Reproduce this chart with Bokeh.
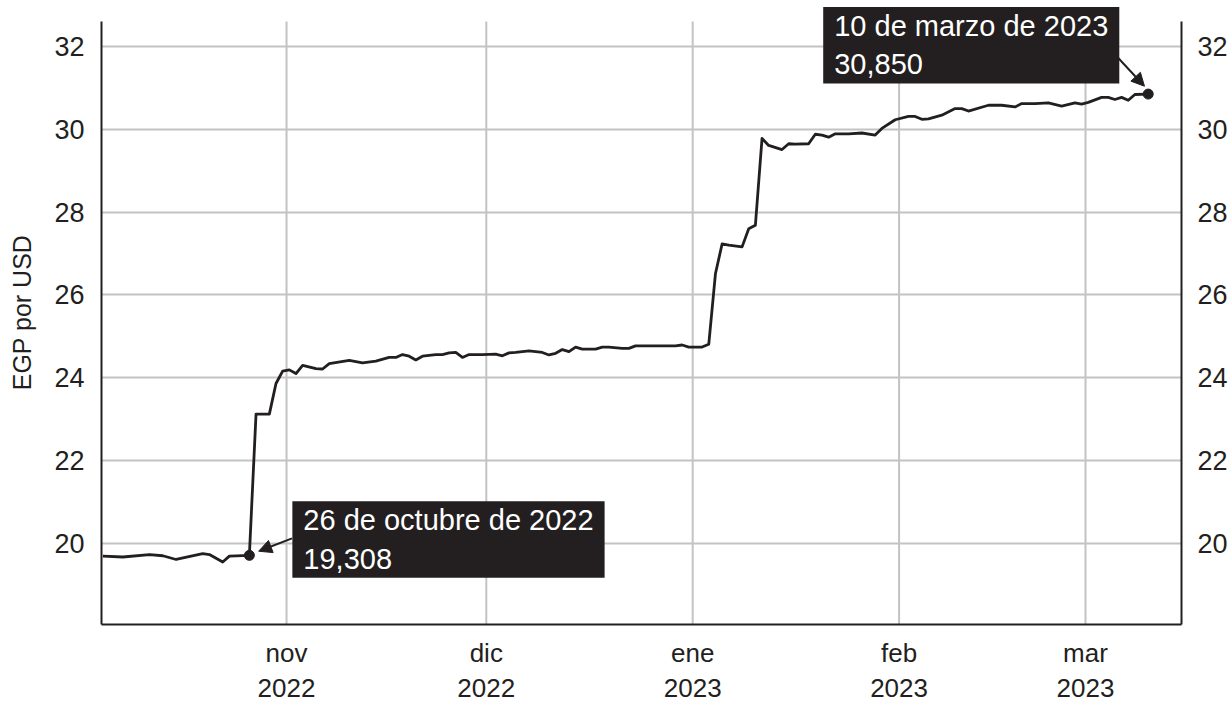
import pandas as pd
from bokeh.plotting import figure
from bokeh.models import (Range1d, FixedTicker, LinearAxis, DatetimeAxis, Label,
                          Arrow, NormalHead, ColumnDataSource)
from bokeh.embed import file_html
from bokeh.resources import INLINE

# ---------------- data ----------------
dates = [
    "2022-10-04", "2022-10-07", "2022-10-11", "2022-10-13", "2022-10-15", "2022-10-19",
    "2022-10-20", "2022-10-22", "2022-10-23", "2022-10-26", "2022-10-27", "2022-10-29",
    "2022-10-30", "2022-10-31", "2022-11-01", "2022-11-02", "2022-11-03", "2022-11-05",
    "2022-11-06", "2022-11-07", "2022-11-10", "2022-11-12", "2022-11-14", "2022-11-16",
    "2022-11-17", "2022-11-18", "2022-11-19", "2022-11-20", "2022-11-21", "2022-11-23",
    "2022-11-24", "2022-11-25", "2022-11-26", "2022-11-27", "2022-11-28", "2022-11-30",
    "2022-12-02", "2022-12-03", "2022-12-04", "2022-12-05", "2022-12-07", "2022-12-09",
    "2022-12-10", "2022-12-11", "2022-12-12", "2022-12-13", "2022-12-14", "2022-12-15",
    "2022-12-17", "2022-12-18", "2022-12-19", "2022-12-21", "2022-12-22", "2022-12-23",
    "2022-12-26", "2022-12-29", "2022-12-30", "2022-12-31", "2023-01-02", "2023-01-03",
    "2023-01-04", "2023-01-05", "2023-01-06", "2023-01-08", "2023-01-09", "2023-01-10",
    "2023-01-11", "2023-01-12", "2023-01-14", "2023-01-15", "2023-01-16", "2023-01-18",
    "2023-01-19", "2023-01-20", "2023-01-21", "2023-01-22", "2023-01-24", "2023-01-26",
    "2023-01-28", "2023-01-29", "2023-01-31", "2023-02-02", "2023-02-03", "2023-02-04",
    "2023-02-05", "2023-02-07", "2023-02-09", "2023-02-10", "2023-02-11", "2023-02-14",
    "2023-02-16", "2023-02-18", "2023-02-19", "2023-02-21", "2023-02-23", "2023-02-25",
    "2023-02-27", "2023-02-28", "2023-03-01", "2023-03-03", "2023-03-04", "2023-03-05",
    "2023-03-06", "2023-03-07", "2023-03-08", "2023-03-10",
]
egp_per_usd = [
    19.69, 19.67, 19.73, 19.70, 19.61, 19.75,
    19.73, 19.55, 19.69, 19.71, 23.12, 23.12,
    23.86, 24.16, 24.19, 24.10, 24.30, 24.22,
    24.21, 24.34, 24.42, 24.36, 24.40, 24.49,
    24.49, 24.56, 24.52, 24.43, 24.52, 24.56,
    24.56, 24.60, 24.61, 24.49, 24.56, 24.56,
    24.57, 24.53, 24.60, 24.61, 24.65, 24.61,
    24.55, 24.59, 24.68, 24.63, 24.74, 24.69,
    24.69, 24.74, 24.74, 24.71, 24.71, 24.77,
    24.77, 24.77, 24.79, 24.74, 24.74, 24.81,
    26.51, 27.23, 27.20, 27.16, 27.60, 27.68,
    29.78, 29.61, 29.51, 29.65, 29.64, 29.65,
    29.88, 29.86, 29.81, 29.89, 29.89, 29.91,
    29.86, 30.02, 30.23, 30.31, 30.31, 30.24,
    30.25, 30.34, 30.50, 30.50, 30.44, 30.58,
    30.58, 30.54, 30.62, 30.62, 30.64, 30.56,
    30.64, 30.61, 30.65, 30.77, 30.77, 30.72,
    30.77, 30.70, 30.84, 30.85,
]
month_ticks = ["2022-11-01", "2022-12-01", "2023-01-01", "2023-02-01", "2023-03-01"]
month_labels = ["nov", "dic", "ene", "feb", "mar"]
year_labels = ["2022", "2022", "2023", "2023", "2023"]
y_ticks = [20, 22, 24, 26, 28, 30, 32]
y_title = "EGP por USD"
callout_dates = ["2022-10-26", "2023-03-10"]
callout_texts = ["26 de octubre de 2022\n19,308", "10 de marzo de 2023\n30,850"]

# ---------------- style ----------------
FONT = "Liberation Sans"
INK = "#231f20"
GRID = "#c3c3c3"
FS = "27px"
Y_LO, Y_AXIS_TOP, Y_VIEW_TOP = 18.04, 32.6, 33.11   # axes end at 32.6; space above holds the callout

x = pd.to_datetime(dates) + pd.Timedelta(hours=10)
src = ColumnDataSource(dict(x=x, y=egp_per_usd))

def ms(d):
    return float(pd.Timestamp(d).value // 10**6)

tick_ms = [ms(d) for d in month_ticks]

p = figure(
    x_axis_type="datetime",
    width=1232, height=702,
    x_range=Range1d(pd.Timestamp("2022-10-04 05:00"), pd.Timestamp("2023-03-15 10:00")),
    y_range=Range1d(Y_LO, Y_VIEW_TOP),
    output_backend="svg", toolbar_location=None,
    min_border_left=101, min_border_right=51, min_border_top=0, min_border_bottom=78,
    background_fill_color="white", border_fill_color="white",
)
p.outline_line_color = None

def style_axis(ax):
    ax.axis_line_color = INK
    ax.axis_line_width = 2
    ax.major_tick_line_color = None
    ax.minor_tick_line_color = None
    ax.major_label_text_font = FONT
    ax.major_label_text_font_size = FS
    ax.major_label_text_color = INK

# x axis: months
xa = p.xaxis[0]
xa.ticker = FixedTicker(ticks=tick_ms)
xa.major_label_overrides = {t: m for t, m in zip(tick_ms, month_labels)}
style_axis(xa)
xa.major_label_text_font_size = "26px"
xa.major_label_standoff = 7

# second row: years
ya2 = DatetimeAxis(ticker=FixedTicker(ticks=tick_ms),
                   major_label_overrides={t: yv for t, yv in zip(tick_ms, year_labels)})
style_axis(ya2)
ya2.major_label_text_font_size = "26px"
ya2.axis_line_color = None
ya2.major_label_standoff = 2
p.add_layout(ya2, "below")

# y axes
yl = p.yaxis[0]
yl.ticker = FixedTicker(ticks=y_ticks)
yl.bounds = (Y_LO, Y_AXIS_TOP)
style_axis(yl)
yl.major_label_standoff = 11
yl.axis_label = y_title
yl.axis_label_text_font = FONT
yl.axis_label_text_font_size = "25px"
yl.axis_label_text_font_style = "normal"
yl.axis_label_text_color = INK
yl.axis_label_standoff = 15

yr = LinearAxis(ticker=FixedTicker(ticks=y_ticks), bounds=(Y_LO, Y_AXIS_TOP))
style_axis(yr)
yr.major_label_standoff = 10
p.add_layout(yr, "right")

# grids: horizontal from bokeh grid, vertical month lines stop at the axis top
p.ygrid.ticker = FixedTicker(ticks=y_ticks)
p.ygrid.grid_line_color = GRID
p.ygrid.grid_line_width = 2
p.xgrid.visible = False
p.segment(x0=tick_ms, y0=[Y_LO] * len(tick_ms), x1=tick_ms, y1=[Y_AXIS_TOP] * len(tick_ms),
          line_color=GRID, line_width=2, level="underlay")

# series
p.line("x", "y", source=src, line_color=INK, line_width=2.8, line_join="round")

# callouts
day = 86400000.0
specs = [
    # label offsets (px), arrow start (days, units), arrow end (days, units)
    dict(xo=43, yo=54, s=(6.4, 0.41), e=(1.4, 0.10)),
    dict(xo=-325, yo=87, s=(-4.5, 0.87), e=(-0.56, 0.19)),
]
for d, txt, sp in zip(callout_dates, callout_texts, specs):
    i = dates.index(d)
    px = ms(x[i])
    py = egp_per_usd[i]
    p.scatter([px], [py], size=10, color=INK)
    p.add_layout(Label(
        x=px, y=py, x_offset=sp["xo"], y_offset=sp["yo"], text=txt,
        text_font=FONT, text_font_size="29px", text_color="white",
        text_align="left", text_baseline="top", text_line_height=1.2,
        background_fill_color=INK, padding=(11, 3),
    ))
    p.add_layout(Arrow(
        x_start=px + sp["s"][0] * day, y_start=py + sp["s"][1],
        x_end=px + sp["e"][0] * day, y_end=py + sp["e"][1],
        line_color=INK, line_width=2,
        end=NormalHead(size=13, fill_color=INK, line_color=INK),
    ))

open("out.html", "w").write(file_html(p, INLINE))
